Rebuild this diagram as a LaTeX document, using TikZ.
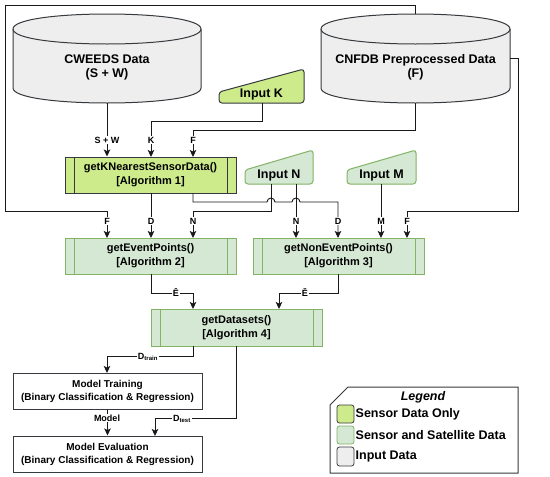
\documentclass[tikz,border=0pt]{standalone}
\usepackage{fontspec}
\setmainfont{Liberation Sans}
\usetikzlibrary{arrows.meta}
\definecolor{sdo}{HTML}{CDEB8B}
\definecolor{ssd}{HTML}{D5E8D4}
\definecolor{ssdline}{HTML}{82B366}
\definecolor{inp}{HTML}{EEEEEE}
\definecolor{dark}{HTML}{36393D}
\newcommand{\boxfnt}{\bfseries\fontsize{11}{14}\selectfont}
\newcommand{\bigfnt}{\bfseries\fontsize{12.5}{14}\selectfont}
\newcommand{\modfnt}{\bfseries\fontsize{10}{13}\selectfont}
\newcommand{\lblfnt}{\bfseries\fontsize{9}{10}\selectfont}
\begin{document}
\begin{tikzpicture}[x=1pt,y=-1pt,
  line/.style={draw=black!90, line width=0.9pt},
  arr/.style={line, -{Stealth[length=7pt,width=6.5pt,inset=1.5pt]}},
  lbl/.style={fill=white, inner sep=1pt, font=\lblfnt},
  proc/.style={rectangle, draw=#1, line width=1pt, minimum width=171pt, minimum height=36pt, inner sep=0pt, align=center, font=\boxfnt,
    path picture={\draw[#1, line width=1pt] ([xshift=9pt]path picture bounding box.north west) -- ([xshift=9pt]path picture bounding box.south west)
      ([xshift=-9pt]path picture bounding box.north east) -- ([xshift=-9pt]path picture bounding box.south east);}},
  modbox/.style={rectangle, draw=dark, line width=1pt, fill=white, minimum width=189pt, minimum height=36pt, inner sep=0pt, align=center, font=\modfnt},
  cyl/.style={fill=inp, draw=dark, line width=1pt},
  cyltxt/.style={align=center, font=\bigfnt},
  inshape/.style={line width=1pt, rounded corners=3pt},
  swatch/.style={line width=0.8pt, rounded corners=2.5pt},
  legtxt/.style={anchor=west, font=\bigfnt, inner sep=0pt}
]
\fill[white] (0,0) rectangle (550,477);
\useasboundingbox (0,0) rectangle (550,477);

% ---------- cylinders ----------
\filldraw[cyl] (13,29) -- (13,88) .. controls (13,108) and (201,108) .. (201,88) -- (201,29) .. controls (201,9) and (13,9) .. (13,29) -- cycle;
\draw[cyl, fill=none] (13,29) .. controls (13,49) and (201,49) .. (201,29);
\node[cyltxt] (cw) at (107,67) {CWEEDS Data\\(S + W)};
\coordinate (cwb) at (107,103);

\filldraw[cyl] (321,29) -- (321,88) .. controls (321,108) and (510,108) .. (510,88) -- (510,29) .. controls (510,9) and (321,9) .. (321,29) -- cycle;
\draw[cyl, fill=none] (321,29) .. controls (321,49) and (510,49) .. (510,29);
\node[cyltxt] (cn) at (415.5,67) {CNFDB Preprocessed Data\\(F)};
\coordinate (cnb) at (415.5,103);
\coordinate (cnt) at (415.5,14);
\coordinate (cnr) at (510,58);

% ---------- manual inputs ----------
\filldraw[inshape, fill=sdo, draw=dark] (219,103) -- (219,92) -- (304,69) -- (304,103) -- cycle;
\node[font=\bigfnt] (inK) at (261.5,94) {Input K};
\coordinate (inKb) at (262,103);

\filldraw[inshape, fill=ssd, draw=ssdline] (245,184) -- (245,170) -- (313,150) -- (313,184) -- cycle;
\node[font=\bigfnt] (inN) at (279,175) {Input N};
\filldraw[inshape, fill=ssd, draw=ssdline] (347,184) -- (347,170) -- (416,150) -- (416,184) -- cycle;
\node[font=\bigfnt] (inM) at (381.5,175) {Input M};

% ---------- process boxes ----------
\node[proc=dark, fill=sdo] (kn) at (150.5,175) {getKNearestSensorData()\\{}[Algorithm 1]};
\node[proc=ssdline, fill=ssd] (ev) at (150.5,256) {getEventPoints()\\{}[Algorithm 2]};
\node[proc=ssdline, fill=ssd] (ne) at (338.5,256) {getNonEventPoints()\\{}[Algorithm 3]};
\node[proc=ssdline, fill=ssd, minimum height=37pt] (ds) at (236.5,327.5) {getDatasets()\\{}[Algorithm 4]};
\node[modbox] (mt) at (107.5,391) {Model Training\\(Binary Classification \& Regression)};
\node[modbox] (me) at (107.5,454) {Model Evaluation\\(Binary Classification \& Regression)};

% ---------- connectors ----------
\draw[arr] (cwb) -- (cwb |- kn.north);
\draw[arr] (inKb) -- (262,121) -- (151,121) -- (151,157);
\draw[arr] (cnb) -- (415.5,130) -- (193,130) -- (193,157);
\node[lbl] (lSW) at (107,140) {S + W};
\node[lbl] (lK) at (151,140) {K};
\node[lbl] (lF1) at (193,140) {F};

\draw[arr] (cnt) -- (415.5,5) -- (5,5) -- (5,211) -- (107,211) -- (107,238);
\draw[arr] (cnr) -- (518,58) -- (518,211) -- (407,211) -- (407,238);

\draw[arr] (151,193) -- (151,238);
\draw[arr] (193,193) -- (193,202) -- (267,202) arc[start angle=180, end angle=0, radius=4pt] -- (292,202) arc[start angle=180, end angle=0, radius=4pt] -- (338,202) -- (338,238);
\draw[arr] (271,184) -- (271,211) -- (193,211) -- (193,238);
\draw[arr] (296,184) -- (296,238);
\draw[arr] (381,184) -- (381,238);

\node[lbl] (lF2) at (107,221) {F};
\node[lbl] (lD1) at (151,221) {D};
\node[lbl] (lN1) at (193,221) {N};
\node[lbl] (lN2) at (296,221) {N};
\node[lbl] (lD2) at (338,221) {D};
\node[lbl] (lM) at (381,221) {M};
\node[lbl] (lF3) at (407,221) {F};

\draw[arr] (151,274) -- (151,293) -- (193,293) -- (193,309);
\draw[arr] (338,274) -- (338,293) -- (279,293) -- (279,309);
\node[lbl] (lEh) at (176,292) {Ê};
\node[lbl] (lEc) at (305,292) {Ě};

\draw[arr] (193,346) -- (193,356) -- (107,356) -- (107,373);
\node[lbl] (lDtr) at (148,357) {D\textsubscript{train}};
\draw[arr] (236.5,346) -- (236.5,418) -- (155,418) -- (155,436);
\node[lbl] (lDte) at (182,419) {D\textsubscript{test}};
\draw[arr] (mt.south) -- (mt.south |- me.north);
\node[lbl] (lMod) at (107,418) {Model};

% ---------- legend ----------
\filldraw[fill=white, draw=dark, line width=1pt] (330,405) -- (348,387) -- (518,387) -- (518,473) -- (330,473) -- cycle;
\node[font=\bfseries\itshape\fontsize{12.5}{14}\selectfont] (legT) at (423,397) {Legend};
\filldraw[swatch, fill=sdo, draw=dark] (337,405) rectangle (354,423);
\filldraw[swatch, fill=ssd, draw=ssdline] (337,426) rectangle (354,444);
\filldraw[swatch, fill=inp, draw=dark] (337,447) rectangle (354,466);
\node[legtxt] (leg1) at (355.5,414) {Sensor Data Only};
\node[legtxt] (leg2) at (355.5,435.5) {Sensor and Satellite Data};
\node[legtxt] (leg3) at (355.5,456.5) {Input Data};
\end{tikzpicture}
\end{document}
